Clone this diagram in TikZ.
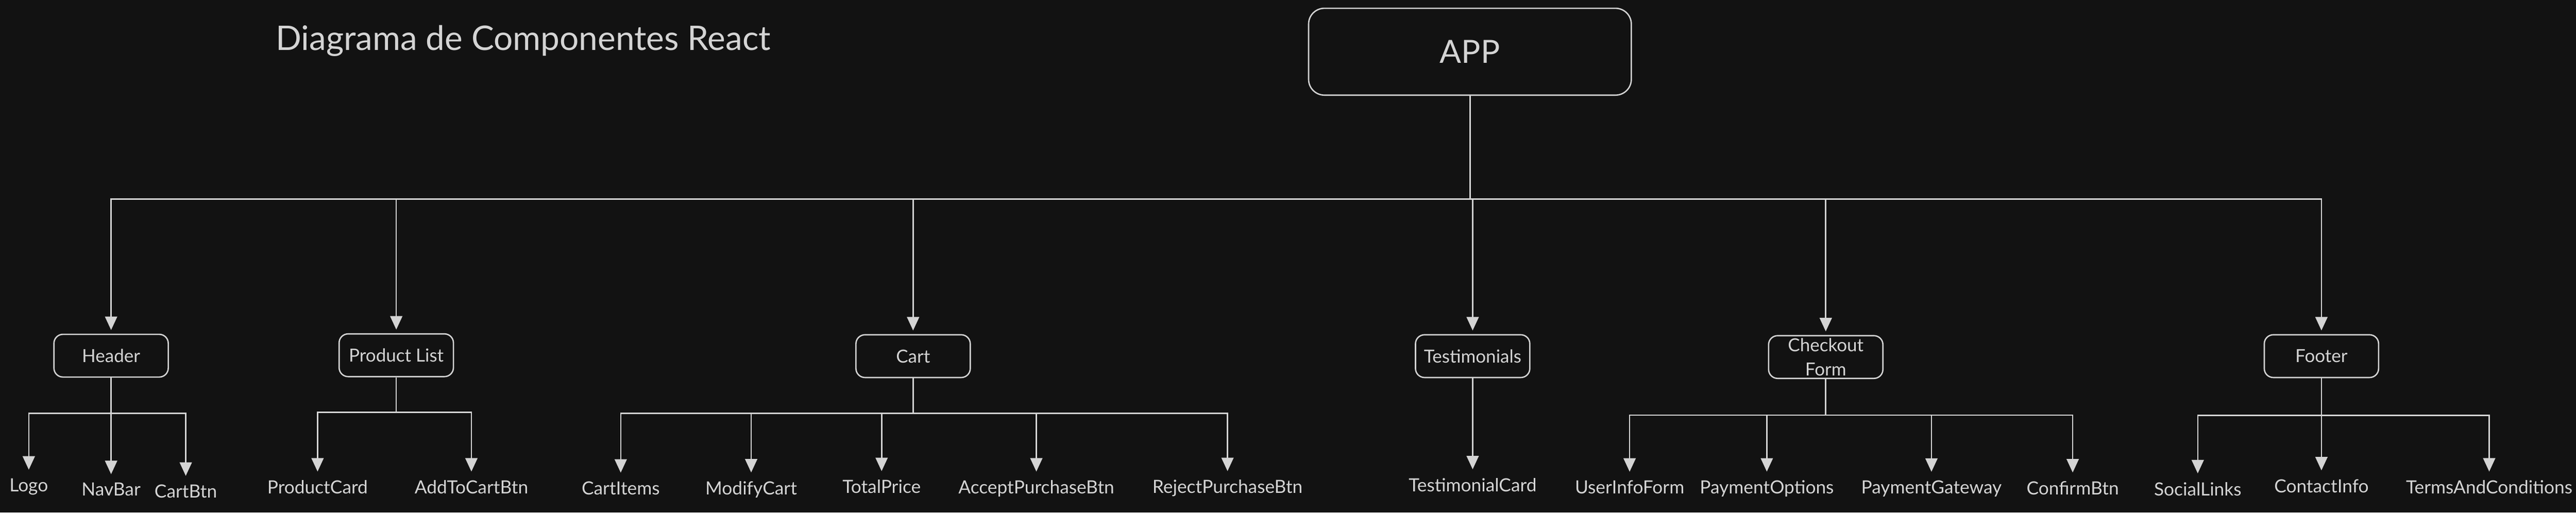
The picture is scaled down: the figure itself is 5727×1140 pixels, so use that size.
\documentclass[tikz,border=0pt]{standalone}
\usepackage{fontspec}
\setmainfont{Lato}
\usepackage{xcolor}
\usetikzlibrary{arrows.meta}
\definecolor{bg}{HTML}{121212}
\definecolor{fg}{HTML}{D4D4D4}

\begin{document}
\begin{tikzpicture}[x=0.01cm, y=-0.01cm, line width=0.03cm, color=fg,
  box/.style={draw, rounded corners=0.2cm, minimum width=2.54cm, minimum height=0.95cm,
    inner sep=0pt, align=center, font=\fontsize{11.4}{15.4}\selectfont},
  leaf/.style={anchor=base, inner sep=0pt, font=\fontsize{11.5}{13}\selectfont},
  bus/.style={line cap=rect},
  arr/.style={-{Triangle[length=0.3cm, width=0.27cm]}, shorten >=0.08cm},
  leafarr/.style={-{Triangle[length=0.3cm, width=0.27cm]}, shorten >=0.18cm}]
  \fill[bg] (0,0) rectangle (5727,1140);

  \node[anchor=base west, font=\fontsize{21.4}{25}\selectfont] (title) at (600,112) {Diagrama de Componentes React};
  \node[box, minimum width=7.17cm, minimum height=1.93cm, rounded corners=0.35cm,
    font=\fontsize{20.2}{24}\selectfont] (app) at (3268,115) {APP};

  % components
  \node[box] (header) at (247,791) {Header};
  \node[box] (productlist) at (881,790) {Product List};
  \node[box] (cart) at (2030,792) {Cart};
  \node[box] (testimonials) at (3274,792) {Testimonials};
  \node[box] (checkout) at (4059,794) {Checkout\\Form};
  \node[box] (footer) at (5161,792) {Footer};

  \coordinate (bus) at (3268,443);
  \draw (app) -- (bus);
  \draw[bus] (header |- bus) -- (footer |- bus);
  \draw[arr] (header |- bus) -- (header);
  \draw[arr] (productlist |- bus) -- (productlist);
  \draw[arr] (cart |- bus) -- (cart);
  \draw[arr] (testimonials |- bus) -- (testimonials);
  \draw[arr] (checkout |- bus) -- (checkout);
  \draw[arr] (footer |- bus) -- (footer);

  % Header
  \node[leaf] (logo) at (64,1093) {Logo};
  \node[leaf] (navbar) at (247,1103) {NavBar};
  \node[leaf] (cartbtn) at (413,1107) {CartBtn};
  \coordinate (headerbus) at (247,919);
  \draw (header) -- (headerbus);
  \draw[bus] (logo |- headerbus) -- (cartbtn |- headerbus);
  \draw[leafarr] (logo |- headerbus) -- (logo);
  \draw[leafarr] (navbar |- headerbus) -- (navbar);
  \draw[leafarr] (cartbtn |- headerbus) -- (cartbtn);

  % Product List
  \node[leaf] (productcard) at (706,1098) {ProductCard};
  \node[leaf] (addtocartbtn) at (1048,1098) {AddToCartBtn};
  \coordinate (productbus) at (881,917);
  \draw (productlist) -- (productbus);
  \draw[bus] (productcard |- productbus) -- (addtocartbtn |- productbus);
  \draw[leafarr] (productcard |- productbus) -- (productcard);
  \draw[leafarr] (addtocartbtn |- productbus) -- (addtocartbtn);

  % Cart
  \node[leaf] (cartitems) at (1380,1100) {CartItems};
  \node[leaf] (modifycart) at (1670,1100) {ModifyCart};
  \node[leaf] (totalprice) at (1960,1097) {TotalPrice};
  \node[leaf] (acceptbtn) at (2304,1098) {AcceptPurchaseBtn};
  \node[leaf] (rejectbtn) at (2729,1097) {RejectPurchaseBtn};
  \coordinate (cartbus) at (2030,919);
  \draw (cart) -- (cartbus);
  \draw[bus] (cartitems |- cartbus) -- (rejectbtn |- cartbus);
  \draw[leafarr] (cartitems |- cartbus) -- (cartitems);
  \draw[leafarr] (modifycart |- cartbus) -- (modifycart);
  \draw[leafarr] (totalprice |- cartbus) -- (totalprice);
  \draw[leafarr] (acceptbtn |- cartbus) -- (acceptbtn);
  \draw[leafarr] (rejectbtn |- cartbus) -- (rejectbtn);

  % Testimonials
  \node[leaf] (testimonialcard) at (3274,1093) {TestimonialCard};
  \draw[leafarr] (testimonials) -- (testimonialcard);

  % Checkout Form
  \node[leaf] (userinfoform) at (3623,1098) {UserInfoForm};
  \node[leaf] (paymentoptions) at (3928,1098) {PaymentOptions};
  \node[leaf] (paymentgateway) at (4294,1098) {PaymentGateway};
  \node[leaf] (confirmbtn) at (4608,1100) {ConfirmBtn};
  \coordinate (checkoutbus) at (4059,923);
  \draw (checkout) -- (checkoutbus);
  \draw[bus] (userinfoform |- checkoutbus) -- (confirmbtn |- checkoutbus);
  \draw[leafarr] (userinfoform |- checkoutbus) -- (userinfoform);
  \draw[leafarr] (paymentoptions |- checkoutbus) -- (paymentoptions);
  \draw[leafarr] (paymentgateway |- checkoutbus) -- (paymentgateway);
  \draw[leafarr] (confirmbtn |- checkoutbus) -- (confirmbtn);

  % Footer
  \node[leaf] (sociallinks) at (4886,1102) {SocialLinks};
  \node[leaf] (contactinfo) at (5161,1095) {ContactInfo};
  \node[leaf] (termsandconditions) at (5534,1098) {TermsAndConditions};
  \coordinate (footerbus) at (5161,924);
  \draw (footer) -- (footerbus);
  \draw[bus] (sociallinks |- footerbus) -- (termsandconditions |- footerbus);
  \draw[leafarr] (sociallinks |- footerbus) -- (sociallinks);
  \draw[leafarr] (contactinfo |- footerbus) -- (contactinfo);
  \draw[leafarr] (termsandconditions |- footerbus) -- (termsandconditions);
\end{tikzpicture}
\end{document}
